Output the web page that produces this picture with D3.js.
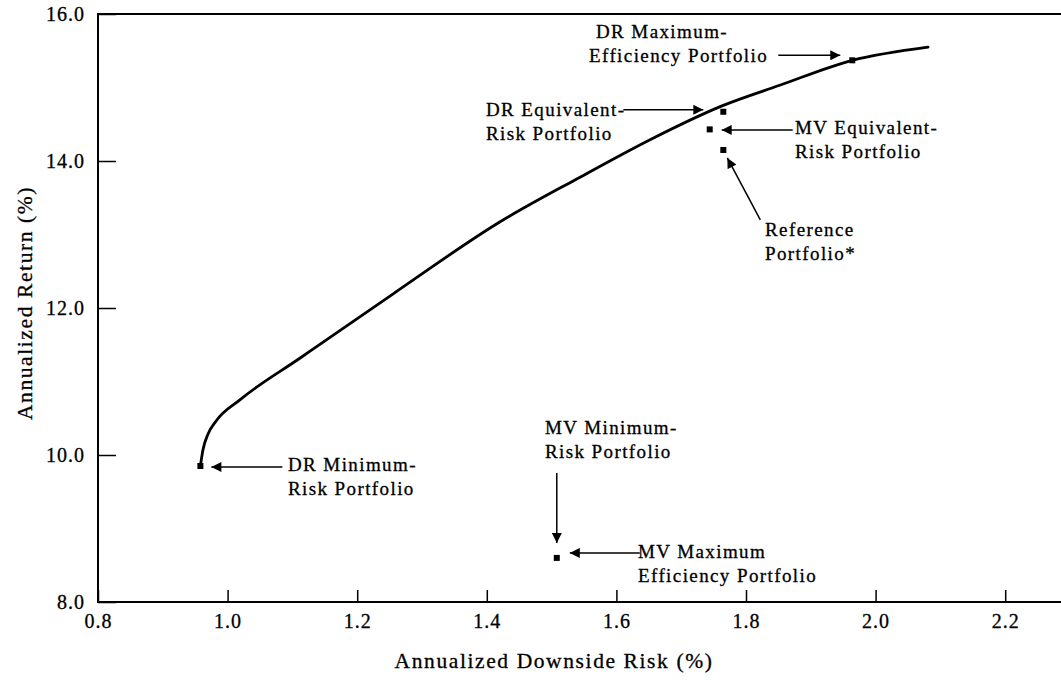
<!DOCTYPE html>
<html>
<head>
<meta charset="utf-8">
<script src="https://cdn.jsdelivr.net/npm/d3@7"></script>
<style>
  body { margin: 0; background: #fff; }
  svg { display: block; font-family: "Liberation Serif", "Times New Roman", serif; }
  svg text { stroke: #000; stroke-width: 0.3px; }
</style>
</head>
<body>
<svg id="chart"></svg>
<script>

// DATA: DOWNSIDE-RISK FRONTIER AND PORTFOLIOS

const frontierRisk   = [0.958, 0.962, 0.970, 0.982, 1.019, 1.112, 1.255, 1.420, 1.544, 1.652, 1.763, 1.852, 1.964, 2.081];
const frontierReturn = [9.85, 10.07, 10.29, 10.46, 10.75, 11.32, 12.19, 13.17, 13.78, 14.29, 14.75, 15.03, 15.37, 15.55];

const portfolioNames  = ["DR Minimum-Risk", "DR Maximum-Efficiency", "DR Equivalent-Risk",
                         "MV Equivalent-Risk", "Reference", "MV Minimum-Risk"];
const portfolioRisk   = [0.958, 1.964, 1.765, 1.744, 1.765, 1.508];
const portfolioReturn = [9.85, 15.37, 14.67, 14.43, 14.15, 8.60];

const xTicks = [0.8, 1.0, 1.2, 1.4, 1.6, 1.8, 2.0, 2.2];
const yTicks = [8, 10, 12, 14, 16];

const xTitle = "Annualized Downside Risk (%)";
const yTitle = "Annualized Return (%)";

// LAYOUT
const width = 1061, height = 680;
const margin = { top: 14, left: 98, bottom: 78 };
const fontSize = 19;

// + SCALES
const xScale = d3.scaleLinear()
  .domain([0.8, 2.2])
  .range([margin.left, margin.left + 1.4 * 648]);

const yScale = d3.scaleLinear()
  .domain([8, 16])
  .range([height - margin.bottom, margin.top]);

const svg = d3.select("#chart")
  .attr("width", width)
  .attr("height", height);

svg.append("defs").append("marker")
  .attr("id", "head")
  .attr("viewBox", "0 0 10 10")
  .attr("refX", 10)
  .attr("refY", 5)
  .attr("markerWidth", 11)
  .attr("markerHeight", 10)
  .attr("markerUnits", "userSpaceOnUse")
  .attr("orient", "auto")
  .append("path")
  .attr("d", "M0,0L10,5L0,10Z")
  .attr("fill", "#000");

// + AXES
const xAxis = svg.append("g")
  .attr("transform", `translate(0, ${yScale(8)})`)
  .call(d3.axisBottom(xScale).tickValues(xTicks).tickFormat(d3.format(".1f"))
    .tickSize(-12).tickSizeOuter(0).tickPadding(12));

const yAxis = svg.append("g")
  .attr("transform", `translate(${xScale(0.8)}, 0)`)
  .call(d3.axisLeft(yScale).tickValues(yTicks).tickFormat(d3.format(".1f"))
    .tickSize(-18).tickSizeOuter(0).tickPadding(13));

[xAxis, yAxis].forEach(g => {
  g.select(".domain").remove();
  g.selectAll("line").attr("stroke", "#000").attr("stroke-width", 1.5);
  g.selectAll("text")
    .attr("font-family", "Liberation Serif, serif")
    .attr("font-size", 20)
    .attr("letter-spacing", 1)
    .attr("fill", "#000");
});

// frame lines: left, bottom, top (no right side)
svg.append("path")
  .attr("d", `M${width},${yScale(16)}H${xScale(0.8)}V${yScale(8)}H${width}`)
  .attr("fill", "none")
  .attr("stroke", "#000")
  .attr("stroke-width", 2);

// AXIS LABELS
svg.append("text")
  .attr("x", 554)
  .attr("y", 668)
  .attr("text-anchor", "middle")
  .attr("font-size", 21.5)
  .attr("letter-spacing", 1.6)
  .text(xTitle);

svg.append("text")
  .attr("transform", `translate(${32}, ${303}) rotate(-90)`)
  .attr("text-anchor", "middle")
  .attr("font-size", 21.5)
  .attr("letter-spacing", 1.6)
  .text(yTitle);

// + FRONTIER LINE
const lineGen = d3.line()
  .x(d => xScale(d[0]))
  .y(d => yScale(d[1]))
  .curve(d3.curveMonotoneX);

svg.append("path")
  .datum(d3.zip(frontierRisk, frontierReturn))
  .attr("fill", "none")
  .attr("stroke", "#000")
  .attr("stroke-width", 2.8)
  .attr("stroke-linecap", "round")
  .attr("d", lineGen);

// + PORTFOLIO MARKERS
svg.selectAll(".portfolio")
  .data(portfolioNames.map((n, i) => ({ name: n, risk: portfolioRisk[i], ret: portfolioReturn[i] })))
  .join("rect")
  .attr("class", "portfolio")
  .attr("x", d => xScale(d.risk) - 3)
  .attr("y", d => yScale(d.ret) - 3)
  .attr("width", 6)
  .attr("height", 6)
  .attr("fill", "#000");

// + ANNOTATIONS (arrow offsets are relative to the marker they point at)
const arrows = [
  { p: 0, tip: [11, 1],   tail: [82, 1] },
  { p: 1, tip: [-12, -5], tail: [-74, -5] },
  { p: 2, tip: [-20, -2], tail: [-100, -2] },
  { p: 3, tip: [12, 0.5], tail: [83, 0.5] },
  { p: 4, tip: [4, 8],    tail: [37, 70] },
  { p: 5, tip: [0, -15],  tail: [0, -85] },
  { p: 5, tip: [13, -5],  tail: [83, -5] }
];

svg.selectAll(".arrow")
  .data(arrows)
  .join("line")
  .attr("class", "arrow")
  .attr("x1", d => xScale(portfolioRisk[d.p]) + d.tail[0])
  .attr("y1", d => yScale(portfolioReturn[d.p]) + d.tail[1])
  .attr("x2", d => xScale(portfolioRisk[d.p]) + d.tip[0])
  .attr("y2", d => yScale(portfolioReturn[d.p]) + d.tip[1])
  .attr("stroke", "#000")
  .attr("stroke-width", 1.5)
  .attr("marker-end", "url(#head)");

// label blocks: left edge and centre of the first line
const labels = [
  { lines: ["DR Minimum-", "Risk Portfolio"], x: 288, y: 465 },
  { lines: ["DR Maximum-", "Efficiency Portfolio"], x: 596, y: 32, x2: 589 },
  { lines: ["DR Equivalent-", "Risk Portfolio"], x: 486, y: 110 },
  { lines: ["MV Equivalent-", "Risk Portfolio"], x: 795, y: 128 },
  { lines: ["Reference", "Portfolio*"], x: 765, y: 230 },
  { lines: ["MV Minimum-", "Risk Portfolio"], x: 545, y: 428 },
  { lines: ["MV Maximum", "Efficiency Portfolio"], x: 638, y: 552 }
];

const labelText = svg.selectAll(".label")
  .data(labels)
  .join("text")
  .attr("class", "label")
  .attr("font-size", fontSize)
  .attr("letter-spacing", 1.4)
  .attr("fill", "#000");

labelText.selectAll("tspan")
  .data(d => d.lines.map((t, i) => ({ t, i, x: i && d.x2 ? d.x2 : d.x, y: d.y })))
  .join("tspan")
  .attr("x", d => d.x)
  .attr("y", d => d.y + 6 + d.i * 24)
  .text(d => d.t);

</script>
</body>
</html>
